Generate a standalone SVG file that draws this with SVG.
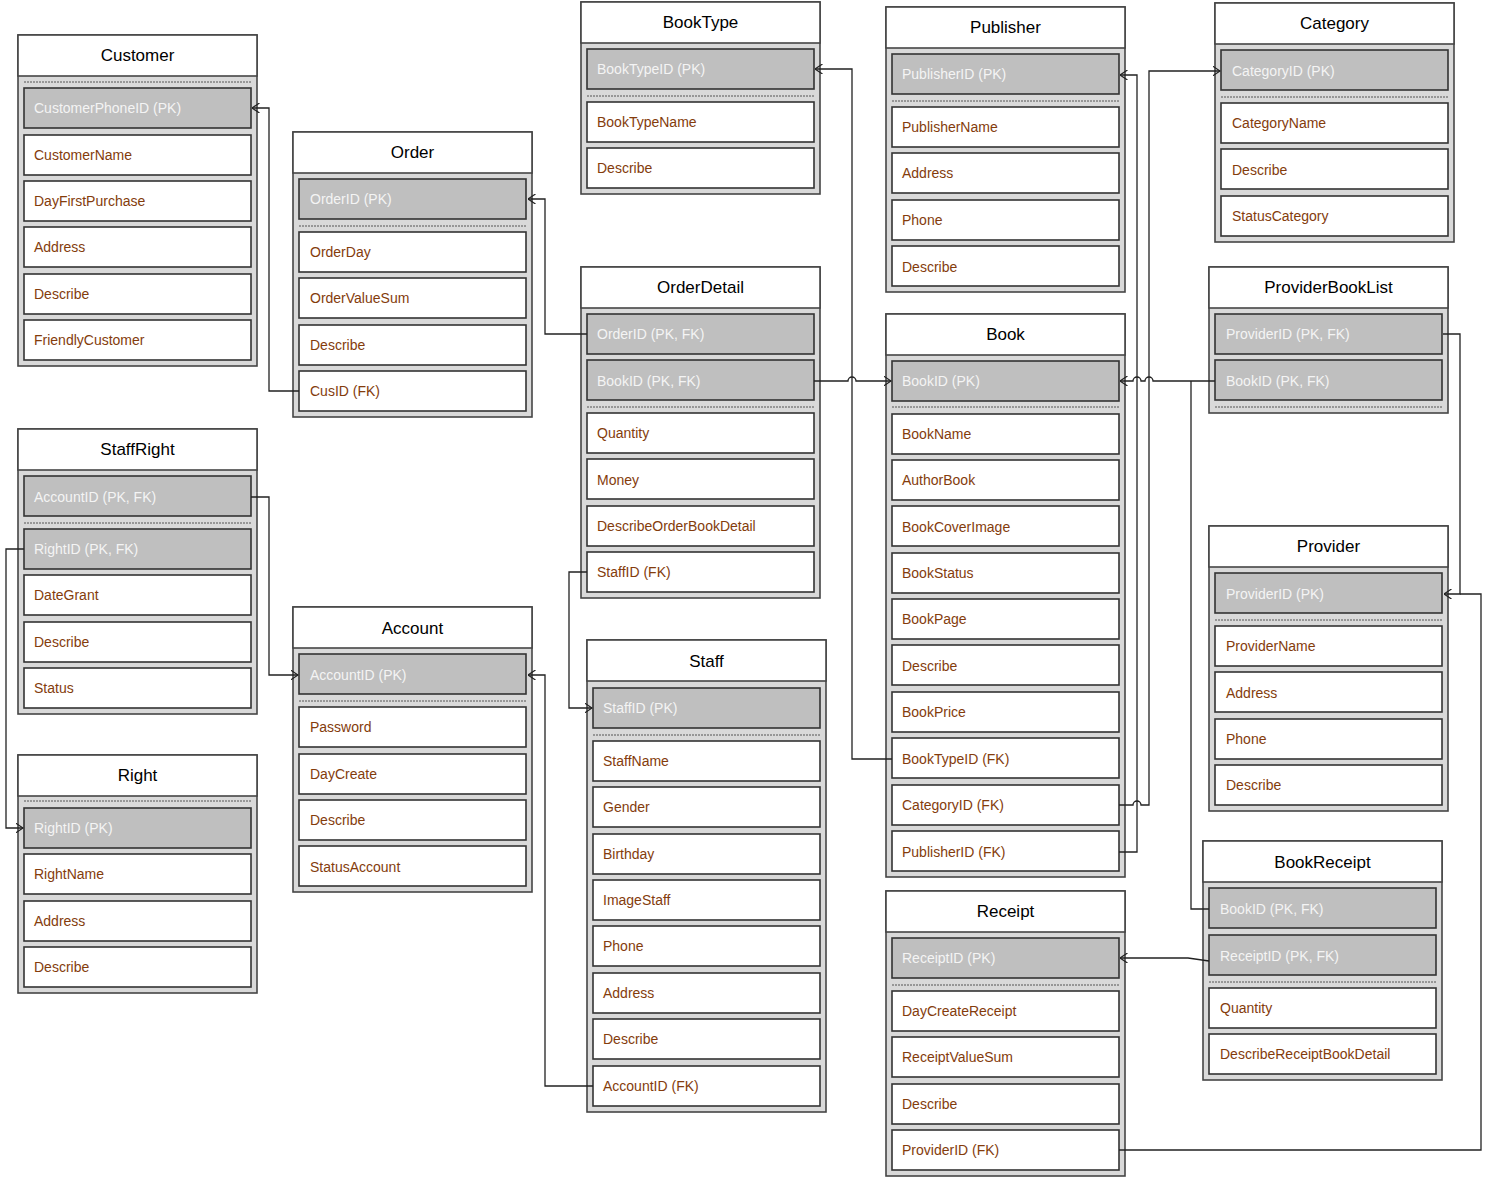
<svg xmlns="http://www.w3.org/2000/svg" width="1494" height="1178" viewBox="0 0 1494 1178">
<style>
.body{fill:#d9d9d9;stroke:#454545;stroke-width:1.6}
.hdr{fill:#ffffff;stroke:#454545;stroke-width:1.6}
.title{font-family:"Liberation Sans",Arial,sans-serif;font-size:17px;fill:#000;text-anchor:middle}
.row{fill:#ffffff;stroke:#333;stroke-width:1.6}
.pk{fill:#bfbfbf;stroke:#333;stroke-width:1.6}
.t{font-family:"Liberation Sans",Arial,sans-serif;font-size:14px;fill:#843c0c}
.tp{font-family:"Liberation Sans",Arial,sans-serif;font-size:14px;fill:#f4f4f4}
.sep{stroke:#555;stroke-width:1;stroke-dasharray:2 1}
.c{fill:none;stroke:#222;stroke-width:1.3}
</style>
<defs>
<marker id="ar" viewBox="0 0 8 10" refX="7.5" refY="5" markerWidth="8" markerHeight="10" markerUnits="userSpaceOnUse" orient="auto">
<path d="M0,0 L7.5,5 L0,10" fill="none" stroke="#222" stroke-width="1.2"/>
</marker>
</defs>

<g id="Customer">
<rect class="body" x="18" y="35" width="239" height="331"/>
<rect class="hdr" x="18" y="35" width="239" height="41"/>
<text class="title" x="137.5" y="61">Customer</text>
<line class="sep" x1="24" y1="82" x2="251" y2="82"/>
<rect class="pk" x="24" y="88" width="227" height="40"/><text class="tp" x="34" y="113">CustomerPhoneID (PK)</text>
<rect class="row" x="24" y="135" width="227" height="40"/><text class="t" x="34" y="160">CustomerName</text>
<rect class="row" x="24" y="181" width="227" height="40"/><text class="t" x="34" y="206">DayFirstPurchase</text>
<rect class="row" x="24" y="227" width="227" height="40"/><text class="t" x="34" y="252">Address</text>
<rect class="row" x="24" y="274" width="227" height="40"/><text class="t" x="34" y="299">Describe</text>
<rect class="row" x="24" y="320" width="227" height="40"/><text class="t" x="34" y="345">FriendlyCustomer</text>
</g>

<g id="Order">
<rect class="body" x="293" y="132" width="239" height="285"/>
<rect class="hdr" x="293" y="132" width="239" height="41"/>
<text class="title" x="412.5" y="158">Order</text>
<rect class="pk" x="299" y="179" width="227" height="40"/><text class="tp" x="310" y="204">OrderID (PK)</text>
<line class="sep" x1="299" y1="226" x2="526" y2="226"/>
<rect class="row" x="299" y="232" width="227" height="40"/><text class="t" x="310" y="257">OrderDay</text>
<rect class="row" x="299" y="278" width="227" height="40"/><text class="t" x="310" y="303">OrderValueSum</text>
<rect class="row" x="299" y="325" width="227" height="40"/><text class="t" x="310" y="350">Describe</text>
<rect class="row" x="299" y="371" width="227" height="40"/><text class="t" x="310" y="396">CusID (FK)</text>
</g>

<g id="BookType">
<rect class="body" x="581" y="2" width="239" height="192"/>
<rect class="hdr" x="581" y="2" width="239" height="41"/>
<text class="title" x="700.5" y="28">BookType</text>
<rect class="pk" x="587" y="49" width="227" height="40"/><text class="tp" x="597" y="74">BookTypeID (PK)</text>
<line class="sep" x1="587" y1="96" x2="814" y2="96"/>
<rect class="row" x="587" y="102" width="227" height="40"/><text class="t" x="597" y="127">BookTypeName</text>
<rect class="row" x="587" y="148" width="227" height="40"/><text class="t" x="597" y="173">Describe</text>
</g>

<g id="Publisher">
<rect class="body" x="886" y="7" width="239" height="285"/>
<rect class="hdr" x="886" y="7" width="239" height="41"/>
<text class="title" x="1005.5" y="33">Publisher</text>
<rect class="pk" x="892" y="54" width="227" height="40"/><text class="tp" x="902" y="79">PublisherID (PK)</text>
<line class="sep" x1="892" y1="101" x2="1119" y2="101"/>
<rect class="row" x="892" y="107" width="227" height="40"/><text class="t" x="902" y="132">PublisherName</text>
<rect class="row" x="892" y="153" width="227" height="40"/><text class="t" x="902" y="178">Address</text>
<rect class="row" x="892" y="200" width="227" height="40"/><text class="t" x="902" y="225">Phone</text>
<rect class="row" x="892" y="246" width="227" height="40"/><text class="t" x="902" y="272">Describe</text>
</g>

<g id="Category">
<rect class="body" x="1215" y="3" width="239" height="239"/>
<rect class="hdr" x="1215" y="3" width="239" height="41"/>
<text class="title" x="1334.5" y="29">Category</text>
<rect class="pk" x="1221" y="50" width="227" height="40"/><text class="tp" x="1232" y="76">CategoryID (PK)</text>
<line class="sep" x1="1221" y1="97" x2="1448" y2="97"/>
<rect class="row" x="1221" y="103" width="227" height="40"/><text class="t" x="1232" y="128">CategoryName</text>
<rect class="row" x="1221" y="149" width="227" height="40"/><text class="t" x="1232" y="175">Describe</text>
<rect class="row" x="1221" y="196" width="227" height="40"/><text class="t" x="1232" y="221">StatusCategory</text>
</g>

<g id="OrderDetail">
<rect class="body" x="581" y="267" width="239" height="331"/>
<rect class="hdr" x="581" y="267" width="239" height="41"/>
<text class="title" x="700.5" y="293">OrderDetail</text>
<rect class="pk" x="587" y="314" width="227" height="40"/><text class="tp" x="597" y="339">OrderID (PK, FK)</text>
<rect class="pk" x="587" y="360" width="227" height="40"/><text class="tp" x="597" y="386">BookID (PK, FK)</text>
<line class="sep" x1="587" y1="407" x2="814" y2="407"/>
<rect class="row" x="587" y="413" width="227" height="40"/><text class="t" x="597" y="438">Quantity</text>
<rect class="row" x="587" y="459" width="227" height="40"/><text class="t" x="597" y="485">Money</text>
<rect class="row" x="587" y="506" width="227" height="40"/><text class="t" x="597" y="531">DescribeOrderBookDetail</text>
<rect class="row" x="587" y="552" width="227" height="40"/><text class="t" x="597" y="577">StaffID (FK)</text>
</g>

<g id="Book">
<rect class="body" x="886" y="314" width="239" height="563"/>
<rect class="hdr" x="886" y="314" width="239" height="41"/>
<text class="title" x="1005.5" y="340">Book</text>
<rect class="pk" x="892" y="361" width="227" height="40"/><text class="tp" x="902" y="386">BookID (PK)</text>
<line class="sep" x1="892" y1="407" x2="1119" y2="407"/>
<rect class="row" x="892" y="414" width="227" height="40"/><text class="t" x="902" y="439">BookName</text>
<rect class="row" x="892" y="460" width="227" height="40"/><text class="t" x="902" y="485">AuthorBook</text>
<rect class="row" x="892" y="506" width="227" height="40"/><text class="t" x="902" y="532">BookCoverImage</text>
<rect class="row" x="892" y="553" width="227" height="40"/><text class="t" x="902" y="578">BookStatus</text>
<rect class="row" x="892" y="599" width="227" height="40"/><text class="t" x="902" y="624">BookPage</text>
<rect class="row" x="892" y="645" width="227" height="40"/><text class="t" x="902" y="671">Describe</text>
<rect class="row" x="892" y="692" width="227" height="40"/><text class="t" x="902" y="717">BookPrice</text>
<rect class="row" x="892" y="738" width="227" height="40"/><text class="t" x="902" y="764">BookTypeID (FK)</text>
<rect class="row" x="892" y="785" width="227" height="40"/><text class="t" x="902" y="810">CategoryID (FK)</text>
<rect class="row" x="892" y="831" width="227" height="40"/><text class="t" x="902" y="857">PublisherID (FK)</text>
</g>

<g id="ProviderBookList">
<rect class="body" x="1209" y="267" width="239" height="146"/>
<rect class="hdr" x="1209" y="267" width="239" height="41"/>
<text class="title" x="1328.5" y="293">ProviderBookList</text>
<rect class="pk" x="1215" y="314" width="227" height="40"/><text class="tp" x="1226" y="339">ProviderID (PK, FK)</text>
<rect class="pk" x="1215" y="360" width="227" height="40"/><text class="tp" x="1226" y="386">BookID (PK, FK)</text>
<line class="sep" x1="1215" y1="407" x2="1442" y2="407"/>
</g>

<g id="Provider">
<rect class="body" x="1209" y="526" width="239" height="285"/>
<rect class="hdr" x="1209" y="526" width="239" height="41"/>
<text class="title" x="1328.5" y="552">Provider</text>
<rect class="pk" x="1215" y="573" width="227" height="40"/><text class="tp" x="1226" y="599">ProviderID (PK)</text>
<line class="sep" x1="1215" y1="620" x2="1442" y2="620"/>
<rect class="row" x="1215" y="626" width="227" height="40"/><text class="t" x="1226" y="651">ProviderName</text>
<rect class="row" x="1215" y="672" width="227" height="40"/><text class="t" x="1226" y="698">Address</text>
<rect class="row" x="1215" y="719" width="227" height="40"/><text class="t" x="1226" y="744">Phone</text>
<rect class="row" x="1215" y="765" width="227" height="40"/><text class="t" x="1226" y="790">Describe</text>
</g>

<g id="BookReceipt">
<rect class="body" x="1203" y="841" width="239" height="239"/>
<rect class="hdr" x="1203" y="841" width="239" height="41"/>
<text class="title" x="1322.5" y="868">BookReceipt</text>
<rect class="pk" x="1209" y="888" width="227" height="40"/><text class="tp" x="1220" y="914">BookID (PK, FK)</text>
<rect class="pk" x="1209" y="935" width="227" height="40"/><text class="tp" x="1220" y="961">ReceiptID (PK, FK)</text>
<line class="sep" x1="1209" y1="982" x2="1436" y2="982"/>
<rect class="row" x="1209" y="988" width="227" height="40"/><text class="t" x="1220" y="1013">Quantity</text>
<rect class="row" x="1209" y="1034" width="227" height="40"/><text class="t" x="1220" y="1059">DescribeReceiptBookDetail</text>
</g>

<g id="Receipt">
<rect class="body" x="886" y="891" width="239" height="285"/>
<rect class="hdr" x="886" y="891" width="239" height="41"/>
<text class="title" x="1005.5" y="917">Receipt</text>
<rect class="pk" x="892" y="938" width="227" height="40"/><text class="tp" x="902" y="963">ReceiptID (PK)</text>
<line class="sep" x1="892" y1="985" x2="1119" y2="985"/>
<rect class="row" x="892" y="991" width="227" height="40"/><text class="t" x="902" y="1016">DayCreateReceipt</text>
<rect class="row" x="892" y="1037" width="227" height="40"/><text class="t" x="902" y="1062">ReceiptValueSum</text>
<rect class="row" x="892" y="1084" width="227" height="40"/><text class="t" x="902" y="1109">Describe</text>
<rect class="row" x="892" y="1130" width="227" height="40"/><text class="t" x="902" y="1155">ProviderID (FK)</text>
</g>

<g id="Staff">
<rect class="body" x="587" y="640" width="239" height="472"/>
<rect class="hdr" x="587" y="640" width="239" height="41"/>
<text class="title" x="706.5" y="667">Staff</text>
<rect class="pk" x="593" y="688" width="227" height="40"/><text class="tp" x="603" y="713">StaffID (PK)</text>
<line class="sep" x1="593" y1="735" x2="820" y2="735"/>
<rect class="row" x="593" y="741" width="227" height="40"/><text class="t" x="603" y="766">StaffName</text>
<rect class="row" x="593" y="787" width="227" height="40"/><text class="t" x="603" y="812">Gender</text>
<rect class="row" x="593" y="834" width="227" height="40"/><text class="t" x="603" y="859">Birthday</text>
<rect class="row" x="593" y="880" width="227" height="40"/><text class="t" x="603" y="905">ImageStaff</text>
<rect class="row" x="593" y="926" width="227" height="40"/><text class="t" x="603" y="951">Phone</text>
<rect class="row" x="593" y="973" width="227" height="40"/><text class="t" x="603" y="998">Address</text>
<rect class="row" x="593" y="1019" width="227" height="40"/><text class="t" x="603" y="1044">Describe</text>
<rect class="row" x="593" y="1066" width="227" height="40"/><text class="t" x="603" y="1091">AccountID (FK)</text>
</g>

<g id="StaffRight">
<rect class="body" x="18" y="429" width="239" height="285"/>
<rect class="hdr" x="18" y="429" width="239" height="41"/>
<text class="title" x="137.5" y="455">StaffRight</text>
<rect class="pk" x="24" y="476" width="227" height="40"/><text class="tp" x="34" y="502">AccountID (PK, FK)</text>
<line class="sep" x1="24" y1="523" x2="251" y2="523"/>
<rect class="pk" x="24" y="529" width="227" height="40"/><text class="tp" x="34" y="554">RightID (PK, FK)</text>
<rect class="row" x="24" y="575" width="227" height="40"/><text class="t" x="34" y="600">DateGrant</text>
<rect class="row" x="24" y="622" width="227" height="40"/><text class="t" x="34" y="647">Describe</text>
<rect class="row" x="24" y="668" width="227" height="40"/><text class="t" x="34" y="693">Status</text>
</g>

<g id="Account">
<rect class="body" x="293" y="607" width="239" height="285"/>
<rect class="hdr" x="293" y="607" width="239" height="41"/>
<text class="title" x="412.5" y="634">Account</text>
<rect class="pk" x="299" y="654" width="227" height="40"/><text class="tp" x="310" y="680">AccountID (PK)</text>
<line class="sep" x1="299" y1="701" x2="526" y2="701"/>
<rect class="row" x="299" y="707" width="227" height="40"/><text class="t" x="310" y="732">Password</text>
<rect class="row" x="299" y="754" width="227" height="40"/><text class="t" x="310" y="779">DayCreate</text>
<rect class="row" x="299" y="800" width="227" height="40"/><text class="t" x="310" y="825">Describe</text>
<rect class="row" x="299" y="846" width="227" height="40"/><text class="t" x="310" y="872">StatusAccount</text>
</g>

<g id="Right">
<rect class="body" x="18" y="755" width="239" height="238"/>
<rect class="hdr" x="18" y="755" width="239" height="41"/>
<text class="title" x="137.5" y="781">Right</text>
<line class="sep" x1="24" y1="801" x2="251" y2="801"/>
<rect class="pk" x="24" y="808" width="227" height="40"/><text class="tp" x="34" y="833">RightID (PK)</text>
<rect class="row" x="24" y="854" width="227" height="40"/><text class="t" x="34" y="879">RightName</text>
<rect class="row" x="24" y="901" width="227" height="40"/><text class="t" x="34" y="926">Address</text>
<rect class="row" x="24" y="947" width="227" height="40"/><text class="t" x="34" y="972">Describe</text>
</g>

<g id="connectors">
<path class="c" d="M299,391 H269 V108 H252" marker-end="url(#ar)"/>
<path class="c" d="M587,334 H545 V199 H528" marker-end="url(#ar)"/>
<path class="c" d="M814,381 H848 A4,4 0 0 1 856,381 H891" marker-end="url(#ar)"/>
<path class="c" d="M892,759 H852 V69 H815" marker-end="url(#ar)"/>
<path class="c" d="M1119,852 H1137 V75 H1120" marker-end="url(#ar)"/>
<path class="c" d="M1119,805 H1133 A4,4 0 0 1 1141,805 H1149 V71 H1220" marker-end="url(#ar)"/>
<path class="c" d="M1215,381 H1153 A4,4 0 0 0 1145,381 H1141 A4,4 0 0 0 1133,381 H1120" marker-end="url(#ar)"/>
<path class="c" d="M1209,909 H1191 V381"/>
<path class="c" d="M1443,334 H1460 V594 H1444" marker-end="url(#ar)"/>
<path class="c" d="M1119,1150 H1481 V594 H1460"/>
<path class="c" d="M1209,961 L1188,958 H1120" marker-end="url(#ar)"/>
<path class="c" d="M251,497 H269 V675 H298" marker-end="url(#ar)"/>
<path class="c" d="M24,549 H6 V828 H23" marker-end="url(#ar)"/>
<path class="c" d="M587,572 H569 V708 H592" marker-end="url(#ar)"/>
<path class="c" d="M593,1086 H545 V675 H528" marker-end="url(#ar)"/>
</g>
</svg>
